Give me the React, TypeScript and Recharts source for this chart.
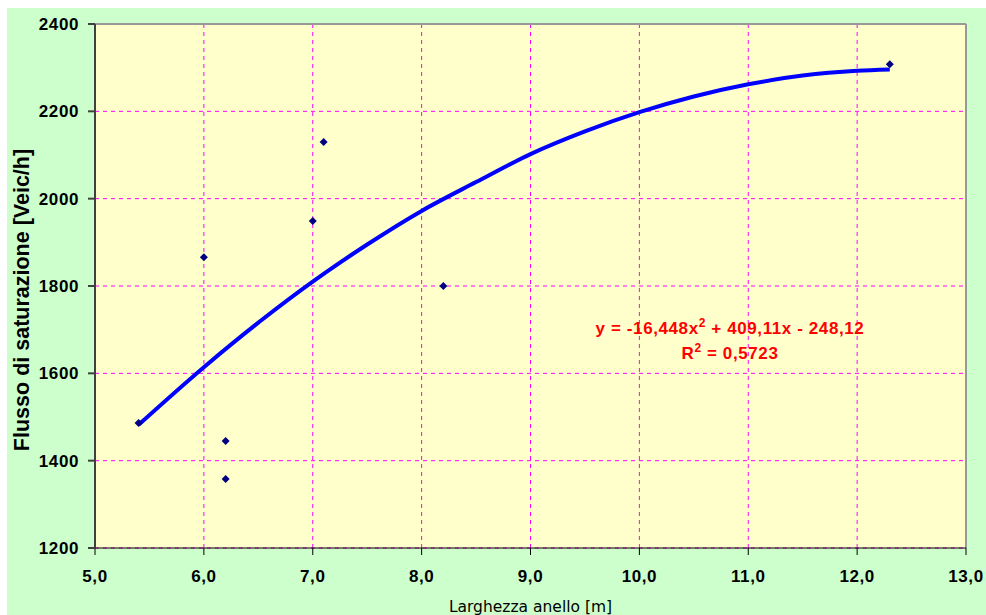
import {
  ComposedChart,
  Scatter,
  Line,
  XAxis,
  YAxis,
  CartesianGrid,
  ReferenceLine,
} from "recharts";

const larghezza = [5.4, 6.0, 6.2, 6.2, 7.0, 7.1, 8.2, 12.3];
const flusso = [1486, 1866, 1445, 1358, 1949, 2130, 1800, 2308];

// trend line points
const trendX = [5.4, 6.0, 6.5, 7.0, 7.5, 8.0, 8.5, 9.0, 9.5, 10.0, 10.5, 11.0, 11.5, 12.0, 12.3];
const trendY = [1482, 1614, 1716, 1810, 1895, 1972, 2038, 2102, 2154, 2198, 2234, 2262, 2282, 2293, 2296];

const xTicks = [5, 6, 7, 8, 9, 10, 11, 12, 13];
const yTicks = [1200, 1400, 1600, 1800, 2000, 2200, 2400];

const points = larghezza.map((x, i) => ({ x, y: flusso[i] }));
const trend = trendX.map((x, i) => ({ x, y: trendY[i] }));

const FONT = "'Liberation Sans', Arial, sans-serif";
const tickStyle = {
  fontSize: 17,
  fontWeight: "bold",
  fill: "#000",
  fontFamily: FONT,
  letterSpacing: 0.6,
};

function Diamond(props: { cx?: number; cy?: number }) {
  const { cx = 0, cy = 0 } = props;
  const r = 4;
  return (
    <polygon
      points={`${cx},${cy - r} ${cx + r},${cy} ${cx},${cy + r} ${cx - r},${cy}`}
      fill="#000080"
    />
  );
}

function YTitle(props: { viewBox?: { x: number; y: number; height: number } }) {
  const vb = props.viewBox || { x: 0, y: 0, height: 0 };
  const x = 15;
  const y = vb.y + vb.height / 2 + 14;
  return (
    <text
      x={x}
      y={y}
      transform={`rotate(-90, ${x}, ${y})`}
      textAnchor="middle"
      dominantBaseline="central"
      fontSize={21.5}
      fontWeight="bold"
      fontFamily={FONT}
      fill="#000"
    >
      Flusso di saturazione [Veic/h]
    </text>
  );
}

export default function App() {
  return (
    <div
      style={{
        position: "fixed",
        left: 7,
        top: 8,
        width: 979,
        height: 607,
        background: "#CCFFCC",
        fontFamily: FONT,
      }}
    >
      <ComposedChart
        width={979}
        height={607}
        margin={{ top: 16, right: 20, left: 0, bottom: 0 }}
      >
        <CartesianGrid
          stroke="#FF00FF"
          strokeDasharray="4 4"
          fill="#FFFFCC"
          fillOpacity={1}
        />
        <XAxis
          type="number"
          dataKey="x"
          domain={[5, 13]}
          ticks={xTicks}
          tickFormatter={(v: number) => v.toFixed(1).replace(".", ",")}
          tick={tickStyle}
          tickSize={7}
          tickMargin={15}
          stroke="#000"
          height={67}
          allowDataOverflow
          label={{
            value: "Larghezza anello [m]",
            position: "insideBottom",
            offset: 3,
            fontSize: 15.5,
            fill: "#000",
            fontFamily: "'DejaVu Sans', sans-serif",
          }}
        />
        <YAxis
          type="number"
          dataKey="y"
          domain={[1200, 2400]}
          ticks={yTicks}
          tick={tickStyle}
          tickSize={7}
          tickMargin={9}
          stroke="#404040"
          strokeWidth={2}
          width={88}
          allowDataOverflow
          label={<YTitle />}
        />
        <ReferenceLine y={2400} stroke="#999" strokeWidth={2} />
        <ReferenceLine x={13} stroke="#999" strokeWidth={2} />
        <Line
          data={trend}
          dataKey="y"
          type="monotone"
          stroke="#0000FF"
          strokeWidth={4}
          dot={false}
          activeDot={false}
          isAnimationActive={false}
        />
        <Scatter
          data={points}
          dataKey="y"
          shape={<Diamond />}
          isAnimationActive={false}
        />
      </ComposedChart>
      <div
        style={{
          position: "absolute",
          left: 573,
          top: 308,
          width: 300,
          textAlign: "center",
          color: "#FF0000",
          fontWeight: "bold",
          fontSize: 17,
          letterSpacing: 0.6,
          lineHeight: "25px",
        }}
      >
        <div>
          y = -16,448x<sup style={{ fontSize: 12, lineHeight: 0 }}>2</sup> + 409,11x - 248,12
        </div>
        <div>
          R<sup style={{ fontSize: 12, lineHeight: 0 }}>2</sup> = 0,5723
        </div>
      </div>
    </div>
  );
}
